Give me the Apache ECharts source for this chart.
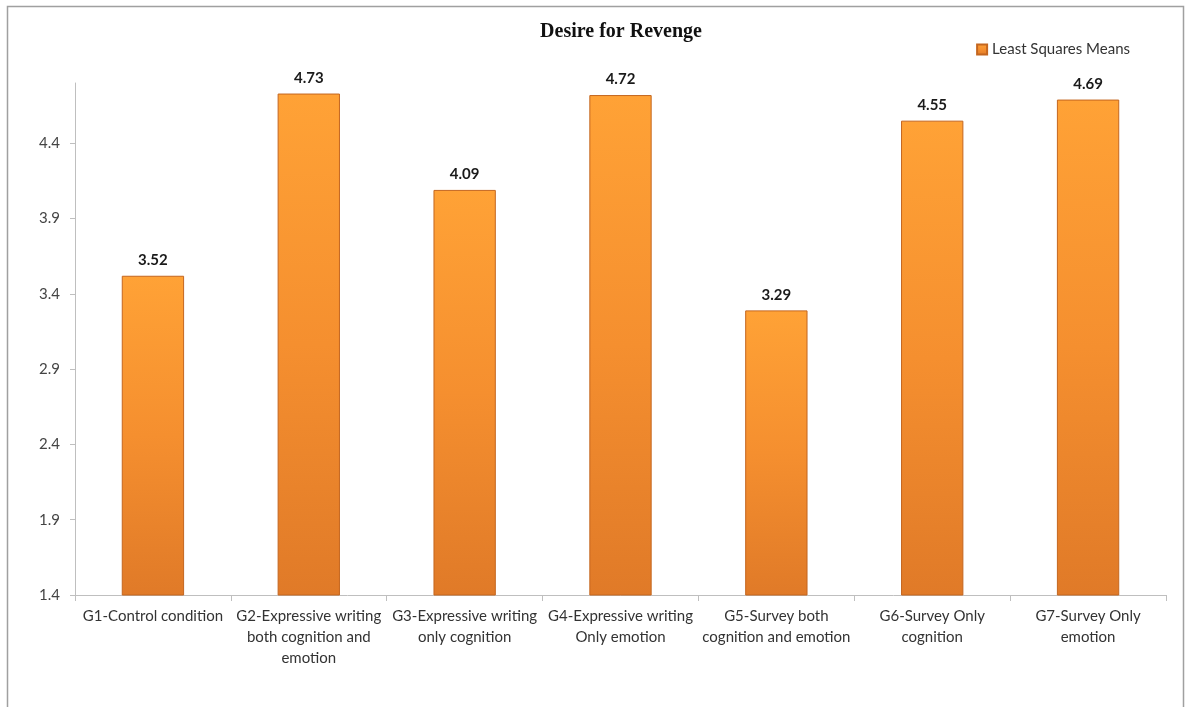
<!DOCTYPE html>
<html>
<head>
<meta charset="utf-8">
<title>Desire for Revenge</title>
<script src="https://cdn.jsdelivr.net/npm/echarts@6.0.0/dist/echarts.min.js"></script>
<style>
  html, body { margin: 0; padding: 0; background: #ffffff; }
  #chart { width: 1186px; height: 707px; }
</style>
</head>
<body>
<div id="chart"></div>
<script>
// Group labels (line breaks as printed under each bar)
const categories = [
  'G1-Control condition',
  'G2-Expressive writing\nboth cognition and\nemotion',
  'G3-Expressive writing\nonly cognition',
  'G4-Expressive writing\nOnly emotion',
  'G5-Survey both\ncognition and emotion',
  'G6-Survey Only\ncognition',
  'G7-Survey Only\nemotion'
];

// Least squares means of desire for revenge per group
const leastSquaresMeans = [3.52, 4.73, 4.09, 4.72, 3.29, 4.55, 4.69];

// Value-axis tick labels
const yTicks = [1.4, 1.9, 2.4, 2.9, 3.4, 3.9, 4.4];

const chart = echarts.init(document.getElementById('chart'), null, { renderer: 'canvas' });

const barFill = new echarts.graphic.LinearGradient(0, 0, 0, 1, [
  { offset: 0, color: '#ffa236' },
  { offset: 0.5, color: '#f58f2f' },
  { offset: 1, color: '#e07a28' }
]);

const sans = 'Lato, "Noto Sans", sans-serif';

const option = {
  backgroundColor: '#ffffff',
  animation: false,
  graphic: [
    {
      type: 'rect',
      shape: { x: 7.5, y: 6.5, width: 1176, height: 720 },
      style: { fill: 'none', stroke: '#a0a0a0', lineWidth: 1.5 },
      silent: true,
      z: -1
    }
  ],
  title: {
    text: 'Desire for Revenge',
    left: 616,
    textAlign: 'center',
    top: 17,
    textStyle: {
      fontFamily: '"Liberation Serif", "Times New Roman", serif',
      fontWeight: 'bold',
      fontSize: 20,
      color: '#111111'
    }
  },
  legend: {
    data: ['Least Squares Means'],
    right: 51,
    top: 37,
    itemWidth: 10,
    itemHeight: 10,
    itemGap: 6,
    icon: 'rect',
    textStyle: {
      fontFamily: sans,
      fontSize: 15,
      color: '#333333'
    }
  },
  grid: {
    left: 75,
    right: 20,
    top: 83,
    bottom: 112,
    containLabel: false
  },
  xAxis: {
    type: 'category',
    data: categories,
    axisLine: { lineStyle: { color: '#bfbfbf', width: 1 } },
    axisTick: { show: true, length: 6, lineStyle: { color: '#bfbfbf' } },
    axisLabel: {
      interval: 0,
      margin: 11,
      fontFamily: sans,
      fontSize: 15,
      lineHeight: 21,
      color: '#333333',
      align: 'center'
    }
  },
  yAxis: {
    type: 'value',
    min: 1.4,
    max: 4.8,
    splitLine: { show: false },
    axisLine: { show: true, lineStyle: { color: '#bfbfbf', width: 1 } },
    axisTick: {
      show: true,
      length: 5,
      lineStyle: { color: '#bfbfbf' },
      customValues: yTicks
    },
    axisLabel: {
      margin: 15,
      fontFamily: sans,
      fontSize: 15,
      color: '#444444',
      customValues: yTicks,
      formatter: v => v.toFixed(1)
    }
  },
  series: [
    {
      name: 'Least Squares Means',
      type: 'bar',
      data: leastSquaresMeans,
      barWidth: '40%',
      itemStyle: {
        color: barFill,
        borderColor: '#c4661f',
        borderWidth: 1
      },
      label: {
        show: true,
        position: 'top',
        distance: 8,
        fontFamily: sans,
        fontWeight: 'bold',
        fontSize: 15,
        color: '#1a1a1a',
        formatter: p => p.value.toFixed(2)
      }
    }
  ]
};

chart.setOption(option);
</script>
</body>
</html>
